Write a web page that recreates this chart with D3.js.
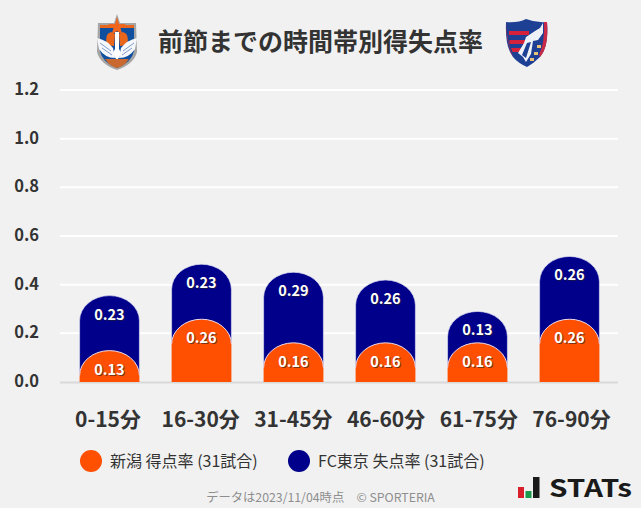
<!DOCTYPE html>
<html lang="ja">
<head>
<meta charset="utf-8">
<script src="https://cdn.jsdelivr.net/npm/d3@7"></script>
<style>
html,body{margin:0;padding:0;background:#f1f1f1;}
svg{display:block;}
text{font-family:"Noto Sans CJK JP","Noto Sans",sans-serif;}
</style>
</head>
<body>
<script>
const categories = ["0-15分","16-30分","31-45分","46-60分","61-75分","76-90分"];
const niigataScored = [0.129,0.258,0.161,0.161,0.161,0.258];
const tokyoConceded = [0.226,0.226,0.290,0.258,0.129,0.258];
const yTicks = [0,0.2,0.4,0.6,0.8,1.0,1.2];
const titleText = "前節までの時間帯別得失点率";
const legendLabels = ["新潟 得点率 (31試合)","FC東京 失点率 (31試合)"];
const footerText = "データは2023/11/04時点　© SPORTERIA";
const colors = {home:"#ff4f00", away:"#00008b"};

const W=641,H=508;
const svg=d3.select("body").append("svg").attr("width",W).attr("height",H);
svg.append("rect").attr("width",W).attr("height",H).attr("fill","#f1f1f1");

const y=d3.scaleLinear().domain([0,1.2]).range([382,90]);
const x=d3.scaleBand().domain(categories).range([63.5,615.5]).paddingInner(0.35).paddingOuter(0.175);
const xLabel=d3.scalePoint().domain(categories).range([108,571.5]);

// grid
svg.append("g").selectAll("line").data(yTicks.filter(d=>d>0)).join("line")
  .attr("x1",60).attr("x2",618).attr("y1",d=>y(d)).attr("y2",d=>y(d))
  .attr("stroke","#fff").attr("stroke-width",2);
svg.append("line").attr("x1",60).attr("x2",618).attr("y1",y(0)+0.5).attr("y2",y(0)+0.5)
  .attr("stroke","#d9d9d9").attr("stroke-width",2);

// y labels
svg.append("g").selectAll("text").data(yTicks).join("text")
  .attr("x",39).attr("y",d=>y(d)+5).attr("text-anchor","end")
  .attr("font-size",16.5).attr("font-weight",700).attr("fill","#333")
  .text(d=>d.toFixed(1));

// x labels
svg.append("g").selectAll("text").data(categories).join("text")
  .attr("x",d=>xLabel(d)).attr("y",427).attr("text-anchor","middle")
  .attr("font-size",21).attr("font-weight",700).attr("fill","#333")
  .text(d=>d);

function topRounded(x0,w,yTop,yBase){
  const rx=w/2, ry=25;
  return `M${x0},${yBase}L${x0},${yTop+ry}A${rx},${ry} 0 0 1 ${x0+rx},${yTop}A${rx},${ry} 0 0 1 ${x0+w},${yTop+ry}L${x0+w},${yBase}Z`;
}
const rows=categories.map((c,i)=>({c,home:niigataScored[i],away:tokyoConceded[i]}));

// Tokyo segment, stacked on Niigata
svg.append("g").selectAll("path").data(rows).join("path")
  .attr("d",d=>topRounded(x(d.c),x.bandwidth(),y(d.home+d.away),y(d.home)+25))
  .attr("fill",colors.away).attr("stroke","#dcdcf0").attr("stroke-width",0.7);
// Niigata segment
svg.append("g").selectAll("path").data(rows).join("path")
  .attr("d",d=>topRounded(x(d.c),x.bandwidth(),y(d.home),y(0)))
  .attr("fill",colors.home);
svg.append("g").selectAll("path").data(rows).join("path")
  .attr("d",d=>{const x0=x(d.c),w=x.bandwidth(),t=y(d.home);
     return `M${x0},${t+25}A${w/2},25 0 0 1 ${x0+w/2},${t}A${w/2},25 0 0 1 ${x0+w},${t+25}`;})
  .attr("fill","none").attr("stroke","#ecdcea").attr("stroke-width",1);

// value labels
function valueLabels(cls,val,pos){
  const g=svg.append("g").attr("class",cls);
  g.selectAll("text.s").data(rows).join("text").attr("class","s")
    .attr("x",d=>x(d.c)+x.bandwidth()/2+1).attr("y",d=>pos(d)+1)
    .attr("text-anchor","middle").attr("font-size",14.5).attr("font-weight",700)
    .attr("fill","#222").attr("opacity",0.6).text(d=>val(d).toFixed(2));
  g.selectAll("text.v").data(rows).join("text").attr("class","v")
    .attr("x",d=>x(d.c)+x.bandwidth()/2).attr("y",d=>pos(d))
    .attr("text-anchor","middle").attr("font-size",14.5).attr("font-weight",700)
    .attr("fill","#fff").text(d=>val(d).toFixed(2));
}
valueLabels("away",d=>d.away,d=>y(d.home+d.away)+24);
valueLabels("home",d=>d.home,d=>y(d.home)+24);

// title
svg.append("text").attr("x",320.5).attr("y",51).attr("text-anchor","middle")
  .attr("font-size",25).attr("font-weight",700).attr("fill","#333").text(titleText);

// Niigata crest
const n=svg.append("g").attr("transform","translate(97,14)");
n.append("path").attr("d","M20 0L23 9L39 9L40 38Q37 50 20 56Q3 50 0 38L1 9L17 9Z").attr("fill","#a5a5a5");
n.append("path").attr("d","M3 11H37V37Q35 48 20 54Q5 48 3 37Z").attr("fill","#0f4f9f");
n.append("path").attr("d","M3 11H37V14H3Z").attr("fill","#e9671c");
n.append("path").attr("d","M20 3L22 10L29 10L23.5 14L25.5 21L20 17L14.5 21L16.5 14L11 10L18 10Z").attr("fill","#f0661e");
n.append("path").attr("d","M10 31Q7 20 14 18L18 20L17 32Z M30 31Q33 20 26 18L22 20L23 32Z").attr("fill","#e9671c");
n.append("path").attr("d","M0 24Q10 26 16 34L18 44Q8 44 2 35Z M40 24Q30 26 24 34L22 44Q32 44 38 35Z").attr("fill","#f5f7fb");
n.append("path").attr("d","M3 29L14 37M5 34L15 41M37 29L26 37M35 34L25 41").attr("stroke","#7f9ccb").attr("stroke-width",1).attr("fill","none");
n.append("path").attr("d","M18 18H22V35Q26 40 20 46Q14 40 18 35Z").attr("fill","#fff");
n.append("path").attr("d","M8 45H32L28 50Q24 53 20 54Q16 53 12 50Z").attr("fill","#c9682f");

// Tokyo crest
const t=svg.append("g").attr("transform","translate(506,19)");
t.append("path").attr("d","M0 3Q12 4 20 0Q30 4 41 3Q43 28 34 38Q28 44 21 48Q12 44 7 38Q-1 28 0 4Z").attr("fill","#1d3f94");
t.append("path").attr("d","M3 12H23V16H3Z M3.5 21H20V25H3.5Z M5 29H16V33H6.5Z").attr("fill","#d5213c");
t.append("path").attr("d","M0 3Q1 24 7 38L5 34Q0 20 0 3Z").attr("fill","#d5213c");
t.append("path").attr("d","M38 3L41 3Q43 28 34 38L33 36Q39 24 38 3Z").attr("fill","#c92a45");
t.append("path").attr("d","M20 18L29 12L34 9L37 4L37 14L32 21L27 22L25 35L20 43L17 38L12 34L18 24Z").attr("fill","#eef1f7");
t.append("path").attr("d","M21 24L25 23L20 39L16 36Z").attr("fill","#1d3f94");
t.append("path").attr("d","M31 26H35V29H31Z M28 33H32V36H28Z M24 39H28V42H24Z").attr("fill","#e7c27a");

// legend
svg.append("circle").attr("cx",91).attr("cy",461).attr("r",11).attr("fill",colors.home);
svg.append("circle").attr("cx",299).attr("cy",461).attr("r",11).attr("fill",colors.away);
svg.append("text").attr("x",110).attr("y",467).attr("font-size",16).attr("fill","#333").text(legendLabels[0]);
svg.append("text").attr("x",318).attr("y",467).attr("font-size",16).attr("fill","#333").text(legendLabels[1]);

// footer
svg.append("text").attr("x",320.5).attr("y",502).attr("text-anchor","middle")
  .attr("font-size",12.3).attr("fill","#8e8e8e").text(footerText);

// STATs logo
svg.append("rect").attr("x",518).attr("y",487).attr("width",6).attr("height",11).attr("fill","#d9202a");
svg.append("rect").attr("x",525.5).attr("y",491).attr("width",6).attr("height",7).attr("fill","#1a9a4a");
svg.append("rect").attr("x",533).attr("y",477).attr("width",6.5).attr("height",21).attr("fill","#1a1a1a");
svg.append("text").attr("x",549).attr("y",497).attr("font-family","'DejaVu Sans',sans-serif")
  .attr("font-size",24.5).attr("font-weight",700).attr("fill","#1a1a1a").attr("textLength",83).attr("lengthAdjust","spacingAndGlyphs").text("STATs");
</script>
</body>
</html>
